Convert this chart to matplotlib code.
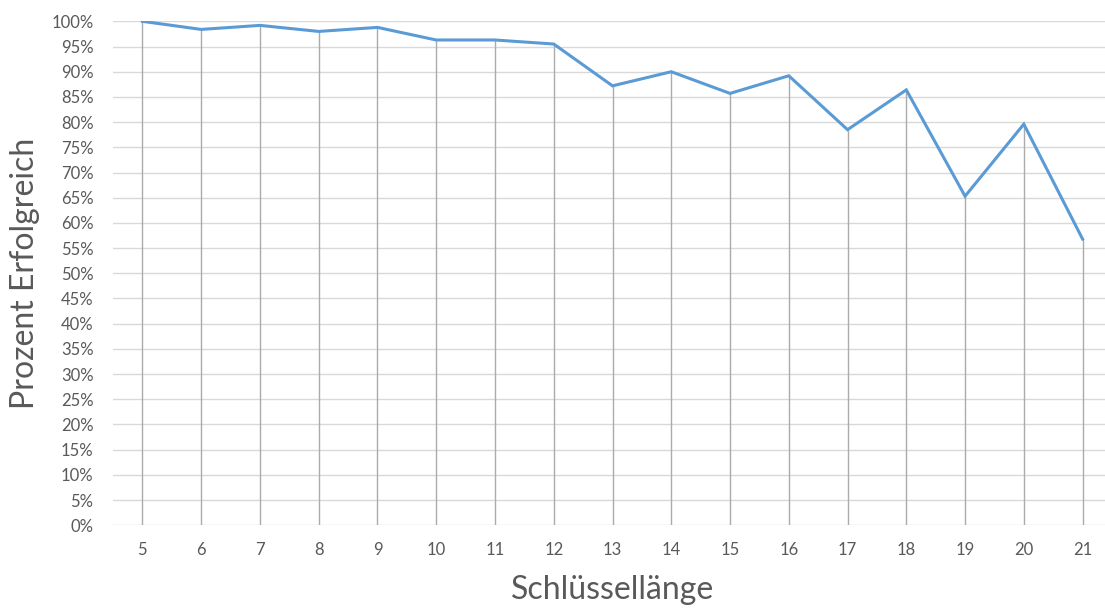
import matplotlib
matplotlib.use("Agg")
import matplotlib.pyplot as plt
from matplotlib.ticker import PercentFormatter

# key length vs. share of successful runs
key_lengths = [5, 6, 7, 8, 9, 10, 11, 12, 13, 14, 15, 16, 17, 18, 19, 20, 21]
success_pct = [100.0, 98.4, 99.2, 98.0, 98.8, 96.3, 96.3, 95.5, 87.2, 90.0,
               85.7, 89.2, 78.5, 86.4, 65.3, 79.6, 56.8]

LINE = "#5B9BD5"
GRID = "#D9D9D9"
DROP = "#ABABAB"
TEXT = "#595959"

plt.rcParams["font.family"] = ["Lato", "DejaVu Sans"]

fig = plt.figure(figsize=(11.05, 6.1), dpi=100)
ax = fig.add_axes([0.1023, 0.139, 0.904, 0.826])

xs = list(range(len(key_lengths)))
ys = [v / 100 for v in success_pct]

# drop lines from each point down to the axis
ax.vlines(xs, 0, ys, color=DROP, lw=1.0, zorder=2)
ax.plot(xs, ys, color=LINE, lw=2.2, solid_joinstyle="miter", zorder=3)

ax.set_xlim(-0.5, len(xs) - 0.5)
ax.set_ylim(0, 1)
ax.set_yticks([i / 20 for i in range(21)])
ax.yaxis.set_major_formatter(PercentFormatter(1.0, decimals=0))
ax.set_xticks(xs)
ax.set_xticklabels([str(k) for k in key_lengths])
ax.grid(axis="y", color=GRID, lw=1.0)
ax.set_axisbelow(True)
for s in ax.spines.values():
    s.set_visible(False)
ax.tick_params(length=0, labelsize=12, colors=TEXT)
ax.tick_params(axis="y", pad=14)
ax.tick_params(axis="x", pad=12)

ax.set_xlabel("Schlüssellänge", fontsize=23, color=TEXT, labelpad=12)
ax.set_ylabel("Prozent Erfolgreich", fontsize=23, color=TEXT, labelpad=8)

fig.savefig("out.png", dpi=100)
